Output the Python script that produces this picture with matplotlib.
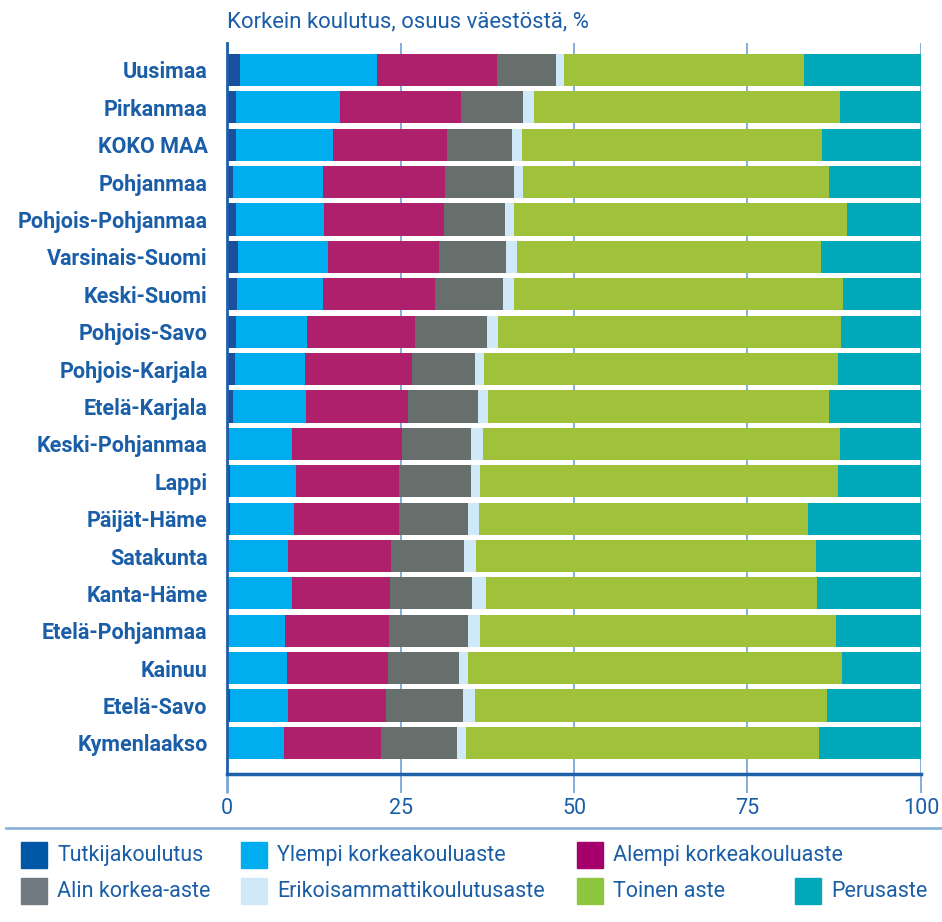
import matplotlib.pyplot as plt
from matplotlib.patches import Rectangle
from matplotlib.lines import Line2D
import numpy as np

# Korkein koulutus, osuus väestöstä (%)
regions = ['Uusimaa', 'Pirkanmaa', 'KOKO MAA', 'Pohjanmaa', 'Pohjois-Pohjanmaa',
           'Varsinais-Suomi', 'Keski-Suomi', 'Pohjois-Savo', 'Pohjois-Karjala',
           'Etelä-Karjala', 'Keski-Pohjanmaa', 'Lappi', 'Päijät-Häme', 'Satakunta',
           'Kanta-Häme', 'Etelä-Pohjanmaa', 'Kainuu', 'Etelä-Savo', 'Kymenlaakso']

tutkija = [1.9, 1.3, 1.3, 0.8, 1.3, 1.6, 1.5, 1.3, 1.2, 0.9,
           0.3, 0.5, 0.5, 0.2, 0.2, 0.2, 0.2, 0.5, 0.2]
ylempi = [19.7, 15.0, 14.0, 13.1, 12.7, 13.0, 12.4, 10.2, 10.1, 10.5,
          9.1, 9.5, 9.1, 8.6, 9.2, 8.1, 8.4, 8.3, 8.05]
alempi = [17.3, 17.4, 16.4, 17.5, 17.3, 15.9, 16.0, 15.6, 15.3, 14.7,
          15.8, 14.8, 15.2, 14.8, 14.1, 15.1, 14.6, 14.1, 13.95]
alin = [8.5, 8.9, 9.3, 10.0, 8.7, 9.7, 9.8, 10.3, 9.1, 10.0,
        10.0, 10.4, 9.9, 10.5, 11.8, 11.3, 10.2, 11.1, 10.9]
erikois = [1.2, 1.6, 1.5, 1.3, 1.3, 1.6, 1.6, 1.6, 1.4, 1.5,
           1.7, 1.3, 1.6, 1.8, 2.0, 1.7, 1.3, 1.7, 1.3]
toinen = [34.5, 44.1, 43.3, 44.0, 48.1, 43.8, 47.5, 49.5, 51.0, 49.1,
          51.4, 51.5, 47.4, 48.9, 47.7, 51.3, 53.9, 50.7, 50.9]
perus = [16.9, 11.7, 14.2, 13.3, 10.6, 14.4, 11.2, 11.5, 11.9, 13.3,
         11.7, 12.0, 16.3, 15.2, 15.0, 12.3, 11.4, 13.6, 14.7]

series = [tutkija, ylempi, alempi, alin, erikois, toinen, perus]
names = ['Tutkijakoulutus', 'Ylempi korkeakouluaste', 'Alempi korkeakouluaste',
         'Alin korkea-aste', 'Erikoisammattikoulutusaste', 'Toinen aste', 'Perusaste']
colors = ['#1b4f9e', '#00aeef', '#ae206c', '#666f6c', '#cfe9f8', '#a0c13a', '#00a8b9']
legend_colors = ['#0057a8', '#00aeef', '#a5006b', '#707a80', '#cfe9f8', '#8dc63f', '#00a8b9']

text_col = '#1b5ea8'
grid_col = '#7ba7d7'

plt.rcParams['font.family'] = ['Roboto', 'DejaVu Sans']

W, H = 942, 922
fig = plt.figure(figsize=(W / 100, H / 100), dpi=100)
ax = fig.add_axes([227 / W, 1 - 774 / H, 694 / W, 731 / H])

y = np.arange(len(regions))
left = np.zeros(len(regions))
for vals, col in zip(series, colors):
    ax.barh(y, vals, left=left, height=0.86, color=col, zorder=2)
    left += np.array(vals)

ax.set_xlim(0, 100)
ax.set_ylim(18.83, -0.72)
ax.set_xticks([0, 25, 50, 75, 100])
ax.set_yticks(y, regions)
ax.grid(axis='x', color=grid_col, lw=1.3, zorder=0)
ax.set_axisbelow(True)

for s in ['top', 'right']:
    ax.spines[s].set_visible(False)
ax.spines['left'].set_color('#1f5fa8')
ax.spines['left'].set_linewidth(2)
ax.spines['bottom'].set_color('#1f5fa8')
ax.spines['bottom'].set_linewidth(2.5)

ax.tick_params(axis='x', length=14, width=1.3, color=grid_col, labelcolor=text_col,
               labelsize=15.5, pad=3)
ax.xaxis.get_major_ticks()[0].tick1line.set_color('#1f5fa8')
ax.xaxis.get_major_ticks()[0].tick1line.set_markeredgewidth(2)
ax.tick_params(axis='y', length=0, labelcolor=text_col, labelsize=15.5, pad=14)
for lab in ax.get_yticklabels():
    lab.set_fontweight('bold')

fig.text(227 / W, 1 - 22 / H, 'Korkein koulutus, osuus väestöstä, %', color=text_col,
         fontsize=15.9, va='center', ha='left')

# separator line above legend
fig.add_artist(Line2D([6 / W, 1], [1 - 828 / H] * 2, color='#8db3dc', lw=2))

# legend, placed by hand
legend_pos = [(21, 855), (241, 855), (577, 855),
              (21, 891), (241, 891), (577, 891), (795, 891)]
for name, col, (px, py) in zip(names, legend_colors, legend_pos):
    fig.add_artist(Rectangle((px / W, 1 - (py + 13) / H), 26 / W, 26 / H,
                             color=col, transform=fig.transFigure))
    fig.text((px + 36) / W, 1 - py / H, name, color=text_col, fontsize=15.5,
             va='center', ha='left')

fig.savefig('out.png', dpi=100)
